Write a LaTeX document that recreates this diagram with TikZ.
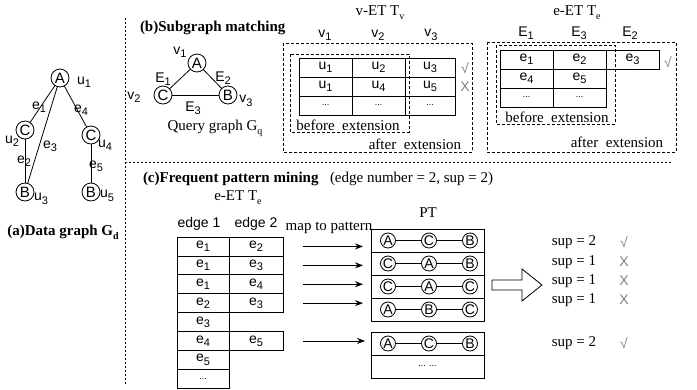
\documentclass[tikz,border=0pt]{standalone}
\usepackage{fontspec}
\setmainfont{Liberation Serif}
\newfontfamily\hv{Liberation Sans}
\usetikzlibrary{arrows.meta}
\newcommand\lsub[1]{\raisebox{-0.45ex}{\fontsize{11}{11}\selectfont #1}}
\newcommand\ssub[1]{\raisebox{-0.55ex}{\fontsize{10}{10}\selectfont #1}}
\begin{document}
\begin{tikzpicture}[x=1pt,y=-1pt,
  every node/.style={inner sep=0pt,outer sep=0pt},
  sl/.style={font=\hv\fontsize{14}{16}\selectfont},
  sr/.style={font=\fontsize{15}{17}\selectfont},
  ttl/.style={font=\bfseries\fontsize{15}{17}\selectfont},
  vtx/.style={circle,draw,line width=0.8pt,minimum size=18pt,font=\hv\fontsize{15}{17}\selectfont},
  pv/.style={circle,draw,line width=0.8pt,minimum size=15pt,fill=white,font=\hv\fontsize{14}{16}\selectfont},
  cell/.style={draw,line width=0.8pt,rectangle,font=\hv\fontsize{14}{16}\selectfont},
  dots/.style={font=\hv\fontsize{9}{10}\selectfont},
  dbox/.style={draw,line width=0.7pt,dash pattern=on 3pt off 2pt},
  divl/.style={draw,line width=0.7pt,dash pattern=on 2pt off 2pt},
  mk/.style={text=gray,font=\hv\fontsize{14}{16}\selectfont},
  edge/.style={line width=0.8pt},
  arr/.style={line width=0.8pt,-{Stealth[length=8pt,width=6pt]}}
]
\useasboundingbox (0,0) rectangle (697,389);

% dividers
\draw[divl] (125,18) -- (125,385);
\draw[divl] (125,162) -- (672,162);

% ---------- (a) data graph ----------
\node[vtx] (a1) at (60,78) {A};
\node[vtx] (a2) at (25,130) {C};
\node[vtx] (a3) at (25,192) {B};
\node[vtx] (a4) at (91,135) {C};
\node[vtx] (a5) at (91,192) {B};
\draw[edge] (a1) -- (a2);
\draw[edge] (a1) -- (a3);
\draw[edge] (a2) -- (a3);
\draw[edge] (a1) -- (a4);
\draw[edge] (a4) -- (a5);
\node[sl] (lu1) at (84,82) {u\lsub{1}};
\node[sl] (lu2) at (12,141) {u\lsub{2}};
\node[sl] (lu3) at (41,199) {u\lsub{3}};
\node[sl] (lu4) at (105,145) {u\lsub{4}};
\node[sl] (lu5) at (107,196) {u\lsub{5}};
\node[sl] (le1) at (39,107) {e\lsub{1}};
\node[sl] (le2) at (24,161) {e\lsub{2}};
\node[sl] (le3) at (50,146) {e\lsub{3}};
\node[sl] (le4) at (81,110) {e\lsub{4}};
\node[sl] (le5) at (96,166) {e\lsub{5}};
\node[ttl] (ta) at (63,232) {(a)Data graph G\ssub{d}};

% ---------- (b) subgraph matching ----------
\node[ttl,anchor=west] (tb) at (140,28) {(b)Subgraph matching};
\node[vtx] (q1) at (197,63) {A};
\node[vtx] (q2) at (163,95) {C};
\node[vtx] (q3) at (228,95) {B};
\draw[edge] (q1) -- (q2);
\draw[edge] (q1) -- (q3);
\draw[edge] (q2) -- (q3);
\node[sl] (lv1) at (180,52) {v\lsub{1}};
\node[sl] (lv2) at (134,97) {v\lsub{2}};
\node[sl] (lv3) at (246,101) {v\lsub{3}};
\node[sl] (lE1) at (163,79) {E\lsub{1}};
\node[sl] (lE2) at (223,78) {E\lsub{2}};
\node[sl] (lE3) at (193,108) {E\lsub{3}};
\node[sr] (qg) at (215,128) {Query graph G\ssub{q}};

% v-ET table
\node[sr] (tv) at (380,13) {v-ET T\ssub{v}};
\node[sl] (hv1) at (325,35) {v\lsub{1}};
\node[sl] (hv2) at (378,35) {v\lsub{2}};
\node[sl] (hv3) at (431,35) {v\lsub{3}};
\draw[dbox] (283,43) rectangle (472,152);
\draw[dbox] (290,54) rectangle (409,132);
\node[cell,minimum width=53pt,minimum height=19pt] (v11) at (325.5,67.5) {u\lsub{1}};
\node[cell,minimum width=53pt,minimum height=19pt] (v12) at (378.5,67.5) {u\lsub{2}};
\node[cell,minimum width=50pt,minimum height=19pt] (v13) at (430,67.5) {u\lsub{3}};
\node[cell,minimum width=53pt,minimum height=19pt] (v21) at (325.5,86.5) {u\lsub{1}};
\node[cell,minimum width=53pt,minimum height=19pt] (v22) at (378.5,86.5) {u\lsub{4}};
\node[cell,minimum width=50pt,minimum height=19pt] (v23) at (430,86.5) {u\lsub{5}};
\node[cell,minimum width=53pt,minimum height=19pt,dots] (v31) at (325.5,105.5) {...};
\node[cell,minimum width=53pt,minimum height=19pt,dots] (v32) at (378.5,105.5) {...};
\node[cell,minimum width=50pt,minimum height=19pt,dots] (v33) at (430,105.5) {...};
\node[mk] (vc1) at (465,68) {√};
\node[mk] (vc2) at (465,87) {X};
\node[sr] (vbe) at (348,125) {before\ \ extension};
\node[sr] (vae) at (415,144) {after\ \ extension};

% e-ET table
\node[sr] (te) at (577,13) {e-ET T\ssub{e}};
\node[sl] (hE1) at (526,33) {E\lsub{1}};
\node[sl] (hE3) at (579,33) {E\lsub{3}};
\node[sl] (hE2) at (630,33) {E\lsub{2}};
\draw[dbox] (487,42) rectangle (676,152);
\draw[dbox] (496,45) rectangle (615,124);
\node[cell,minimum width=53pt,minimum height=19pt] (e11) at (526.5,59.5) {e\lsub{1}};
\node[cell,minimum width=53pt,minimum height=19pt] (e12) at (579.5,59.5) {e\lsub{2}};
\node[cell,minimum width=53pt,minimum height=19pt] (e13) at (632.5,59.5) {e\lsub{3}};
\node[cell,minimum width=53pt,minimum height=19pt] (e21) at (526.5,78.5) {e\lsub{4}};
\node[cell,minimum width=53pt,minimum height=19pt] (e22) at (579.5,78.5) {e\lsub{5}};
\node[cell,minimum width=53pt,minimum height=19pt,dots] (e31) at (526.5,97.5) {...};
\node[cell,minimum width=53pt,minimum height=19pt,dots] (e32) at (579.5,97.5) {...};
\node[mk] (ec1) at (668,62) {√};
\node[sr] (ebe) at (557,117) {before\ \ extension};
\node[sr] (eae) at (617,142) {after\ \ extension};

% ---------- (c) frequent pattern mining ----------
\node[ttl,anchor=west] (tc) at (143,179) {(c)Frequent pattern mining};
\node[sr,anchor=west] (tc2) at (330,179) {(edge number = 2, sup = 2)};
\node[sr] (tce) at (238,198) {e-ET T\ssub{e}};
\node[sl] (ed1) at (199,224) {edge 1};
\node[sl] (ed2) at (256,224) {edge 2};
\node[sr] (mtp) at (329,228) {map to pattern};
\node[sr] (pt) at (428,213) {PT};

\foreach \i/\a/\b [count=\r] in {1/1/2,2/1/3,3/1/4,4/2/3}{
  \node[cell,minimum width=52pt,minimum height=18.9pt] (c\r a) at (203,{246.45+18.9*(\r-1)}) {e\lsub{\a}};
  \node[cell,minimum width=54pt,minimum height=18.9pt] (c\r b) at (256,{246.45+18.9*(\r-1)}) {e\lsub{\b}};
}
\node[cell,minimum width=52pt,minimum height=18.9pt] (c5a) at (203,322.05) {e\lsub{3}};
\node[cell,minimum width=52pt,minimum height=18.9pt] (c6a) at (203,340.95) {e\lsub{4}};
\node[cell,minimum width=54pt,minimum height=18.9pt] (c6b) at (256,340.95) {e\lsub{5}};
\node[cell,minimum width=52pt,minimum height=18.9pt] (c7a) at (203,359.85) {e\lsub{5}};
\node[cell,minimum width=52pt,minimum height=18.9pt,dots] (c8a) at (203,378.75) {...};

% PT rows
\foreach \r/\x/\y/\z in {1/A/C/B,2/C/A/B,3/C/A/C,4/A/B/C}{
  \node[cell,minimum width=113pt,minimum height=23pt] (p\r) at (427.5,{240.5+23*(\r-1)}) {};
  \node[pv] (p\r x) at (388,{240.5+23*(\r-1)}) {\x};
  \node[pv] (p\r y) at (429,{240.5+23*(\r-1)}) {\y};
  \node[pv] (p\r z) at (470,{240.5+23*(\r-1)}) {\z};
  \draw[edge] (p\r x) -- (p\r y);
  \draw[edge] (p\r y) -- (p\r z);
}
\node[cell,minimum width=113pt,minimum height=23pt] (p5) at (427.5,343.5) {};
\node[pv] (p5x) at (388,343.5) {A};
\node[pv] (p5y) at (429,343.5) {C};
\node[pv] (p5z) at (470,343.5) {B};
\draw[edge] (p5x) -- (p5y);
\draw[edge] (p5y) -- (p5z);
\node[cell,minimum width=113pt,minimum height=23pt,dots] (p6) at (427.5,366.5) {... ...};

% arrows
\foreach \r in {1,2,3,4}{
  \draw[arr,shorten <=20pt,shorten >=8pt] (c\r b.east) -- (c\r b.east -| p1.west);
}
\draw[arr,shorten <=20pt,shorten >=6pt] (c6b.east) -- (c6b.east -| p5.west);

% big arrow
\draw[line width=0.8pt] (492,280) -- (522,280) -- (522,269) -- (542,285) -- (522,301) -- (522,290) -- (492,290) -- cycle;

% sup
\node[sr] (s1) at (574,242) {sup = 2};
\node[sr] (s2) at (574,262) {sup = 1};
\node[sr] (s3) at (574,281) {sup = 1};
\node[sr] (s4) at (574,300) {sup = 1};
\node[sr] (s5) at (574,343) {sup = 2};
\node[mk] (m1) at (624,242) {√};
\node[mk] (m2) at (624,262) {X};
\node[mk] (m3) at (624,281) {X};
\node[mk] (m4) at (624,300) {X};
\node[mk] (m5) at (624,343) {√};
\end{tikzpicture}
\end{document}
